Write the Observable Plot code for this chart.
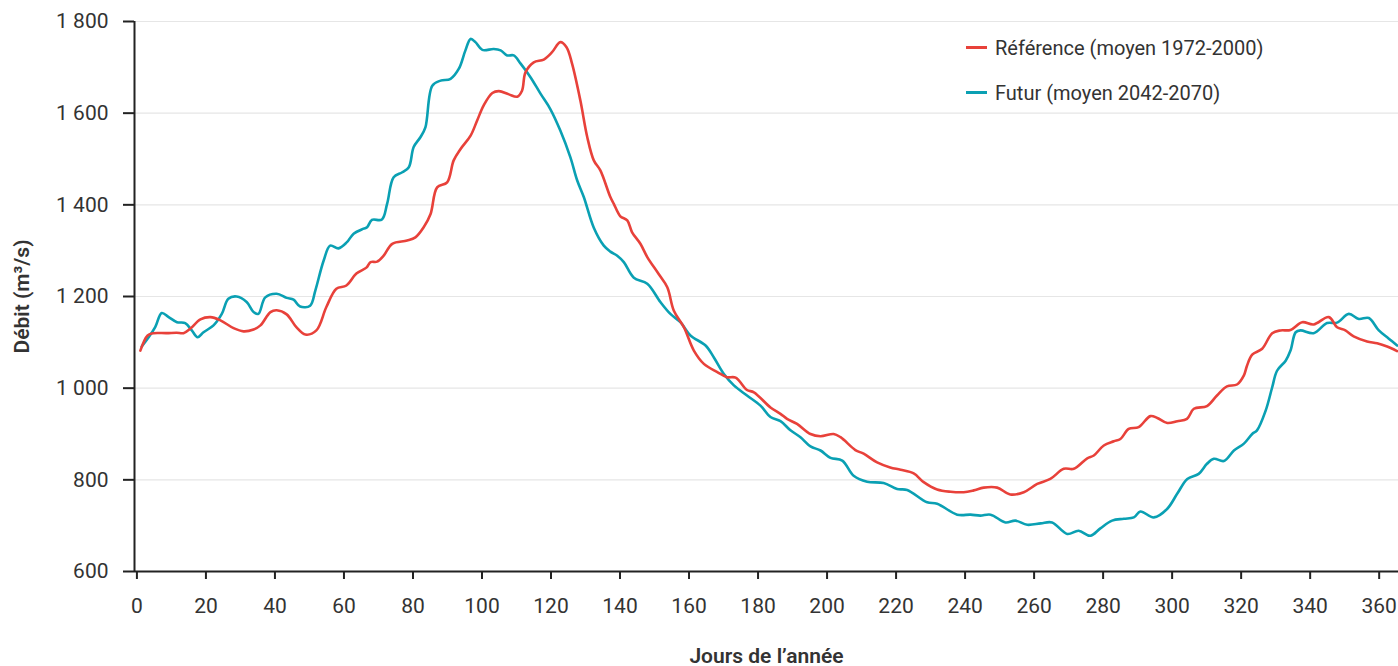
<!DOCTYPE html>
<html>
<head>
<meta charset="utf-8">
<script src="https://cdn.jsdelivr.net/npm/d3@7"></script>
<script src="https://cdn.jsdelivr.net/npm/@observablehq/plot@0.6"></script>
<style>
  html, body { margin: 0; padding: 0; background: #fff; }
  #wrap { position: relative; width: 1398px; height: 666px; font-family: Roboto, "Noto Sans", sans-serif; }
  #wrap svg [aria-label="x-axis label"], #wrap svg [aria-label="y-axis label"] { font-weight: 600; font-size: 21px; }
  #wrap svg [aria-label="x-axis label"] text, #wrap svg [aria-label="y-axis label"] text { font-weight: 600; font-size: 21px; }
  .legend { position: absolute; left: 966px; top: 25px; font-size: 20px; color: #333; }
  .legend .row { display: flex; align-items: center; height: 45px; }
  .legend .sw { width: 21px; height: 3px; margin-right: 8px; }
</style>
</head>
<body>
<div id="wrap"></div>
<script>
const seriesNames = ["Référence (moyen 1972-2000)", "Futur (moyen 2042-2070)"];
const seriesColors = ["#e8413a", "#0aa0b3"];

const refDays = [1.0,3.1,4.8,8.6,11.5,13.5,15.5,18.4,21.3,24.2,28.0,30.9,33.8,35.8,38.7,40.5,43.4,46.2,48.8,52.0,54.9,57.8,60.7,63.6,66.5,67.7,69.6,71.5,74.0,78.3,80.7,83.1,85.1,87.0,89.9,91.8,93.8,96.7,98.6,100.5,103.0,104.9,107.8,110.2,111.6,112.6,115.0,117.9,120.3,122.7,124.5,126.1,128.5,130.5,132.4,134.3,137.2,138.2,140.1,142.1,143.5,145.9,147.9,151.2,153.7,155.6,158.5,161.4,164.3,168.2,171.0,173.5,176.8,178.8,183.6,186.5,188.4,191.3,195.2,198.1,201.9,203.9,208.2,210.6,214.5,218.3,221.3,225.1,228.0,231.9,235.8,239.6,242.5,245.4,249.3,253.1,257.0,260.9,264.7,268.6,271.5,275.4,277.3,280.2,283.1,285.0,287.4,290.3,293.7,295.7,298.6,301.5,304.3,306.3,310.1,313.0,315.9,318.8,320.8,321.7,323.2,326.1,329.0,331.4,334.3,337.7,341.0,345.4,347.8,350.2,352.6,356.5,359.4,362.3,365.2];
const refValues = [1082,1115,1120,1120,1121,1120,1130,1150,1155,1148,1131,1124,1128,1137,1166,1170,1161,1133,1117,1126,1177,1217,1224,1250,1263,1275,1276,1289,1315,1322,1329,1351,1380,1438,1449,1497,1522,1551,1584,1617,1644,1648,1641,1636,1649,1689,1711,1717,1733,1755,1744,1708,1628,1548,1497,1475,1417,1402,1375,1366,1340,1315,1286,1249,1220,1169,1133,1082,1053,1035,1024,1023,996,991,958,944,933,922,900,895,900,893,865,857,838,827,822,814,795,779,774,773,777,783,783,768,773,791,802,824,824,847,853,875,884,889,911,915,939,935,924,928,933,955,961,984,1004,1008,1028,1049,1073,1086,1120,1126,1127,1144,1139,1155,1133,1126,1113,1102,1098,1091,1081];

const futDays = [1.4,3.4,5.3,7.2,9.2,11.6,14.0,15.9,17.6,19.3,22.2,24.6,26.5,28.9,31.8,33.8,35.2,37.2,40.5,43.4,45.4,47.3,50.2,51.7,54.1,56.0,58.4,60.8,62.8,65.7,66.7,68.1,71.0,72.5,74.4,76.9,78.8,80.2,82.2,83.6,85.6,88.0,90.9,93.3,95.2,96.7,98.1,100.1,103.4,105.4,107.3,109.2,111.2,114.1,117.0,119.8,122.7,125.6,127.6,129.5,132.4,135.3,137.2,139.2,141.1,144.0,147.9,151.7,154.6,157.5,160.4,164.8,167.2,170.1,173.0,176.8,180.7,183.6,186.5,189.4,192.3,195.2,198.1,201.0,204.4,207.7,211.6,216.4,220.3,223.2,229.0,231.9,237.7,241.6,244.4,247.4,251.7,254.6,258.0,261.9,265.2,269.6,272.9,276.3,279.2,282.6,286.0,288.9,290.8,294.7,298.6,301.5,304.4,307.7,310.1,312.1,315.0,317.9,320.8,323.2,324.6,327.1,329.0,330.4,332.9,334.3,335.8,337.2,341.0,344.9,347.8,351.2,354.1,357.0,359.9,362.8,365.2];
const futValues = [1091,1111,1133,1164,1155,1144,1142,1126,1111,1122,1137,1162,1195,1200,1188,1166,1162,1198,1206,1197,1193,1178,1180,1213,1278,1311,1305,1318,1337,1348,1351,1367,1368,1402,1460,1471,1482,1526,1548,1569,1660,1671,1675,1697,1737,1762,1755,1738,1740,1737,1726,1726,1708,1678,1642,1609,1562,1504,1453,1417,1350,1311,1298,1289,1275,1241,1228,1188,1162,1144,1115,1093,1067,1031,1006,984,962,937,928,908,893,873,864,848,842,809,796,793,780,778,751,748,724,724,722,724,707,711,702,705,707,682,689,678,694,711,715,718,731,718,737,770,802,813,835,846,841,864,879,900,908,951,1002,1038,1060,1082,1122,1126,1120,1142,1143,1162,1151,1153,1126,1108,1093];

const xTicks = [0,20,40,60,80,100,120,140,160,180,200,220,240,260,280,300,320,340,360];
const yTicks = [600,800,1000,1200,1400,1600,1800];
const yTickLabels = ["600","800","1 000","1 200","1 400","1 600","1 800"];

const ref = refDays.map((d, i) => ({day: d, value: refValues[i], series: seriesNames[0]}));
const fut = futDays.map((d, i) => ({day: d, value: futValues[i], series: seriesNames[1]}));

const chart = Plot.plot({
  width: 1398,
  height: 666,
  marginTop: 21,
  marginBottom: 95,
  marginLeft: 134,
  marginRight: 0,
  style: {fontFamily: "Roboto, 'Noto Sans', sans-serif", fontSize: "21px", color: "#333", background: "#fff"},
  x: {domain: [-0.7, 365.6]},
  y: {domain: [600, 1800]},
  marks: [
    Plot.gridY(yTicks, {stroke: "#e6e6e6", strokeOpacity: 1, strokeWidth: 1.2}),
    Plot.line(fut, {x: "day", y: "value", stroke: seriesColors[1], strokeWidth: 2.6, curve: "catmull-rom"}),
    Plot.line(ref, {x: "day", y: "value", stroke: seriesColors[0], strokeWidth: 2.6, curve: "catmull-rom"}),
    Plot.ruleX([-0.7], {stroke: "#222", strokeWidth: 2}),
    Plot.ruleY([600], {stroke: "#222", strokeWidth: 2}),
    Plot.axisY({ticks: yTicks, tickFormat: (d) => yTickLabels[yTicks.indexOf(d)], tickSize: 11, tickPadding: 15, strokeWidth: 2, stroke: "#222",
      label: "Débit (m³/s)", labelAnchor: "center", labelOffset: 120, labelArrow: "none"}),
    Plot.axisX({ticks: xTicks, tickSize: 8, tickPadding: 19, strokeWidth: 2, stroke: "#222",
      label: "Jours de l’année", labelAnchor: "center", labelOffset: 91, labelArrow: "none"})
  ]
});

const wrap = document.getElementById("wrap");
wrap.appendChild(chart);

const legend = document.createElement("div");
legend.className = "legend";
seriesNames.forEach((name, i) => {
  const row = document.createElement("div");
  row.className = "row";
  const sw = document.createElement("span");
  sw.className = "sw";
  sw.style.background = seriesColors[i];
  const t = document.createElement("span");
  t.textContent = name;
  row.appendChild(sw);
  row.appendChild(t);
  legend.appendChild(row);
});
wrap.appendChild(legend);
</script>
</body>
</html>
